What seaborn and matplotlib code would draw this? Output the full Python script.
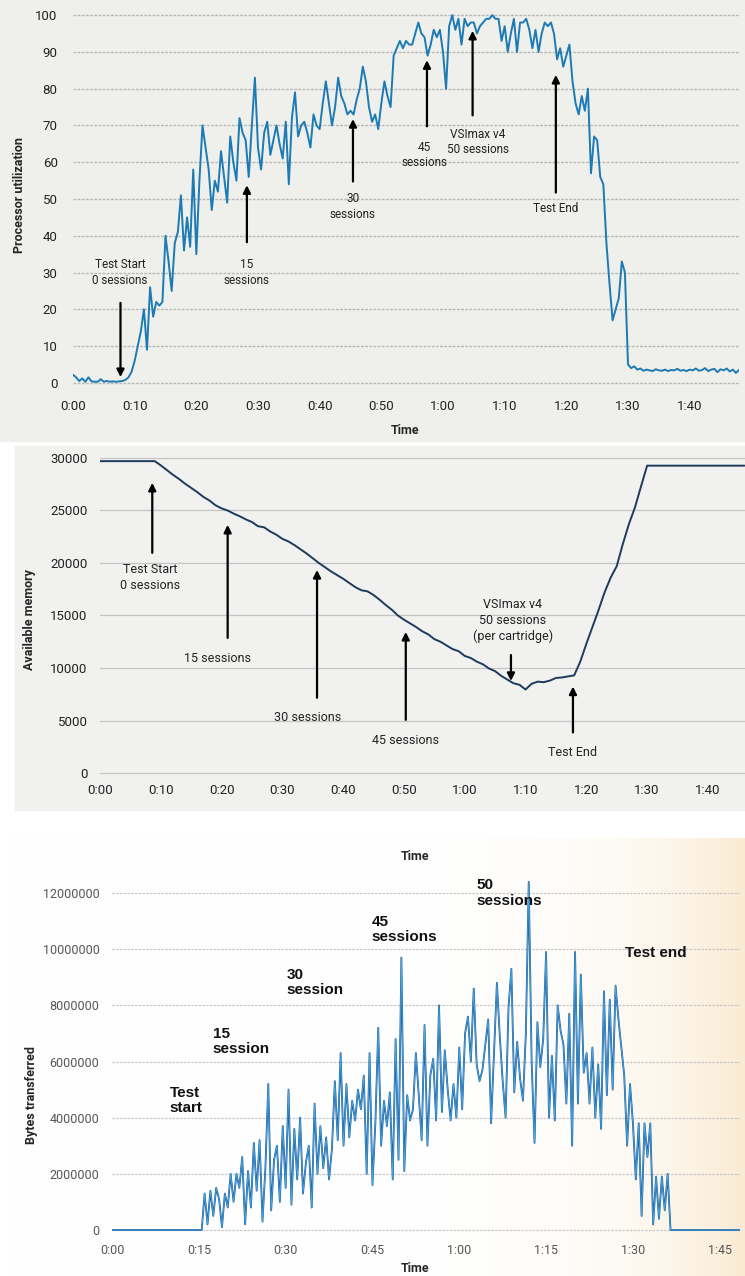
import numpy as np
import matplotlib
matplotlib.use('Agg')
import matplotlib.pyplot as plt
from matplotlib.patches import Rectangle
import seaborn as sns

# --- processor utilization, one sample every 30 s (0:00 .. 1:48)
cpu_step = 0.5
cpu = [2.2, 1.5, 0.5, 1.2, 0.3, 1.5, 0.4, 0.3, 0.3, 1.0, 0.3, 0.5, 0.3, 0.4, 0.3, 0.4, 0.5, 0.8, 1.5, 3,
       6, 10, 14, 20, 9, 26, 18, 22, 21, 22, 40, 33, 25, 38, 41, 51, 36, 45, 37, 58,
       35, 55, 70, 64, 58, 47, 55, 52, 63, 56, 49, 67, 60, 55, 72, 68, 66, 56, 70, 83,
       64, 58, 68, 71, 62, 66, 70, 65, 61, 71, 54, 72, 79, 67, 70, 71, 68, 64, 73, 70,
       69, 76, 82, 76, 70, 75, 83, 78, 76, 73, 74, 73, 77, 80, 86, 82, 75, 71, 73, 69,
       76, 82, 78, 75, 89, 91, 93, 91, 93, 92, 92, 95, 98, 95, 94, 89, 92, 96, 94, 96,
       90, 80, 97, 100, 96, 99, 92, 99, 97, 98, 98, 95, 97, 98, 99, 99, 100, 99, 99, 93,
       97, 90, 95, 99, 90, 98, 98, 99, 96, 91, 96, 90, 95, 98, 97, 98, 95, 88, 91, 86,
       89, 92, 82, 76, 73, 78, 74, 80, 57, 67, 66, 56, 54, 38, 27, 17, 20, 23, 33, 30,
       5, 4, 4.5, 3.6, 3.9, 3.3, 3.6, 3.4, 3.2, 3.7, 3.4, 3.3, 3.6, 3.2, 3.5, 3.4, 3.8, 3.3, 3.5, 3.2,
       3.6, 3.4, 3.9, 3.3, 3.5, 4.0, 3.2, 3.6, 3.8, 2.9, 3.7, 3.4, 3.9, 3.1, 3.6, 2.7, 3.5]

# --- available memory, one sample per minute (0:00 .. 1:46)
mem_step = 1.0
mem = [29700, 29700, 29700, 29700, 29700, 29700, 29700, 29700, 29700, 29700,
       29300, 28850, 28400, 28000, 27550, 27150, 26750, 26300, 25950, 25500,
       25200, 25000, 24700, 24450, 24150, 23900, 23500, 23400, 23000, 22700,
       22300, 22050, 21700, 21300, 20900, 20450, 20000, 19600, 19200, 18850,
       18500, 18100, 17700, 17400, 17300, 16950, 16500, 16000, 15550, 15000,
       14600, 14250, 13900, 13500, 13200, 12750, 12500, 12150, 11800, 11600,
       11150, 10950, 10600, 10350, 9950, 9700, 9250, 8900, 8550, 8400,
       7950, 8500, 8700, 8650, 8800, 9050, 9100, 9200, 9300, 10600,
       12300, 13900, 15500, 17200, 18600, 19700, 21800, 23700, 25300, 27300, 29270,
       29270, 29270, 29270, 29270, 29270, 29270, 29270, 29270,
       29270, 29270, 29270, 29270, 29270, 29270, 29270, 29270]

# --- bytes transferred (millions), one sample every 30 s (0:00 .. 1:48:30)
bytes_step = 0.5
bytes_m = [0] * 32 + [
    1.3, 0.2, 1.4, 0.5, 1.5, 1.1, 0.1, 1.3, 0.8, 2.0,
    1.0, 2.0, 1.5, 2.6, 0.2, 2.1, 0.8, 3.1, 1.4, 3.2,
    0.3, 2.2, 5.2, 0.7, 2.5, 3.0, 1.0, 3.7, 1.5, 5.0,
    0.9, 3.6, 1.8, 4.0, 1.3, 2.4, 3.0, 0.8, 4.5, 2.0,
    3.7, 2.2, 3.3, 1.8, 2.9, 5.3, 3.2, 6.3, 3.0, 5.2,
    3.3, 4.6, 3.9, 5.0, 4.3, 5.5, 2.0, 6.3,
    1.6, 3.8, 7.2, 3.0, 4.6, 3.7, 4.9, 1.8, 6.8, 2.5, 9.7,
    2.1, 4.8, 3.9, 4.3, 6.3, 4.8, 3.2, 7.3, 3.0, 5.5, 6.1, 3.9,
    8.0, 4.2, 6.4, 5.0, 3.9, 5.2, 4.0, 6.5, 4.3, 7.0, 7.6, 6.0,
    8.6, 5.9, 5.3, 5.7, 6.6, 7.5, 3.8, 6.3, 8.8, 6.9, 5.3, 4.0,
    7.9, 9.3, 4.9, 6.7, 5.4, 4.6, 7.0, 12.4, 6.0, 3.1, 7.4, 5.8,
    6.8, 9.9, 4.0, 6.2, 3.9, 8.0, 7.1, 6.6, 4.5, 7.7, 3.0,
    9.9, 4.5, 9.1, 5.6, 6.3, 4.5, 6.5, 4.0, 5.9, 3.6, 8.5,
    4.8, 8.2, 5.0, 8.7, 7.5, 6.5, 5.5, 3.0, 5.2, 3.8, 1.8,
    3.8, 0.5, 3.8, 2.6, 3.8, 0.2, 1.9, 0.4, 1.9, 0.7,
    2.0, 0] + [0] * 24

ticks_10 = [0, 10, 20, 30, 40, 50, 60, 70, 80, 90, 100]
labels_10 = ['0:00', '0:10', '0:20', '0:30', '0:40', '0:50', '1:00', '1:10', '1:20', '1:30', '1:40']
ticks_15 = [0, 15, 30, 45, 60, 75, 90, 105]
labels_15 = ['0:00', '0:15', '0:30', '0:45', '1:00', '1:15', '1:30', '1:45']
cpu_ticks = [0, 10, 20, 30, 40, 50, 60, 70, 80, 90, 100]
mem_ticks = [0, 5000, 10000, 15000, 20000, 25000, 30000]
bytes_ticks = [0, 2000000, 4000000, 6000000, 8000000, 10000000, 12000000]

sns.set_style('white')
plt.rcParams['font.family'] = ['Roboto', 'DejaVu Sans']

W, H = 745, 1276
fig = plt.figure(figsize=(W / 100, H / 100), dpi=100)
fig.patch.set_facecolor('white')


def box(left, top, right, bottom):
    return [left / W, 1 - bottom / H, (right - left) / W, (bottom - top) / H]


def fx(x):
    return x / W


def fy(y):
    return 1 - y / H


# panel backgrounds (photo of screens)
fig.add_artist(Rectangle((0, fy(441)), 1, 441 / H, transform=fig.transFigure,
                         color='#efefec', zorder=-2))
fig.add_artist(Rectangle((0.02, fy(810)), 0.98, (810 - 446) / H, transform=fig.transFigure,
                         color='#f1f1ef', zorder=-2))
bg = fig.add_axes(box(0, 838, W, H), zorder=-2)
grad = np.linspace(0, 1, 300) ** 7
rgb = np.ones((2, 300, 3))
cream = np.array([0.98, 0.92, 0.83])
for k in range(3):
    rgb[:, :, k] = 1 - grad * (1 - cream[k])
bg.imshow(rgb, aspect='auto', extent=[0, 1, 0, 1])
bg.axis('off')

# ---------------- panel 1 : processor utilization
ax1 = fig.add_axes(box(73, 10, 739, 388))
ax1.set_facecolor('none')
t_cpu = np.arange(len(cpu)) * cpu_step
sns.lineplot(x=t_cpu, y=cpu, ax=ax1, color='#1c7ab4', lw=1.4, estimator=None)
ax1.set_xlim(0, 108)
ax1.set_ylim(-1.4, 101.4)
ax1.set_xticks(ticks_10, labels_10)
ax1.set_yticks(cpu_ticks)
ax1.yaxis.grid(True, color='#b8b8b8', ls=(0, (2, 1)), lw=1.0)
ax1.set_axisbelow(True)
ax1.tick_params(axis='x', length=0, pad=9, labelsize=9.5, labelcolor='#222222')
ax1.tick_params(axis='y', length=0, pad=11, labelsize=9.5, labelcolor='#222222')
sns.despine(ax=ax1, left=True, bottom=True)
fig.text(fx(405), fy(430), 'Time', ha='center', va='center', fontsize=9, fontweight='bold')
fig.text(fx(20), fy(195), 'Processor utilization', rotation=90, ha='center', va='center',
         fontsize=9, fontweight='bold')

arrow = dict(arrowstyle='-|>', color='black', lw=1.6, mutation_scale=11)
cpu_notes = [
    ('Test Start\n0 sessions', 7.6, 30, (7.7, 22.5), (7.7, 0.8)),
    ('15\nsessions', 28.2, 30, (28.2, 37.5), (28.2, 54.5)),
    ('30\nsessions', 45.4, 48, (45.4, 54), (45.4, 72.5)),
    ('45\nsessions', 57.0, 62, (57.4, 69), (57.4, 88.5)),
    ('VSImax v4\n50 sessions', 65.6, 65.5, (64.8, 72), (64.8, 96.5)),
    ('Test End', 78.3, 47.5, (78.3, 51), (78.3, 84.5)),
]
for txt, x, y, tail, tip in cpu_notes:
    ax1.text(x, y, txt, ha='center', va='center', fontsize=8.5, linespacing=1.25,
             color='#222222')
    ax1.annotate('', xy=tip, xytext=tail, arrowprops=arrow)

# ---------------- panel 2 : available memory
ax2 = fig.add_axes(box(100, 452, 745, 778))
ax2.set_facecolor('none')
t_mem = np.arange(len(mem)) * mem_step
sns.lineplot(x=t_mem, y=mem, ax=ax2, color='#1e3a5c', lw=1.4, estimator=None)
ax2.set_xlim(0, 106.1)
ax2.set_ylim(-476, 30571)
ax2.set_xticks(ticks_10, labels_10)
ax2.set_yticks(mem_ticks)
ax2.yaxis.grid(True, color='#c4c4c4', ls='-', lw=0.9)
ax2.set_axisbelow(True)
ax2.tick_params(axis='x', length=0, pad=4, labelsize=9.5, labelcolor='#222222')
ax2.tick_params(axis='y', length=0, pad=9, labelsize=9.5, labelcolor='#222222')
sns.despine(ax=ax2, left=True, bottom=True)
fig.text(fx(30), fy(620), 'Available memory', rotation=90, ha='center', va='center',
         fontsize=9, fontweight='bold')

mem_notes = [
    ('Test Start\n0 sessions', 8.2, 18600, (8.6, 20700), (8.6, 27900)),
    ('15 sessions', 19.4, 10900, (21.0, 12600), (21.0, 23900)),
    ('30 sessions', 34.2, 5300, (35.7, 6900), (35.7, 19600)),
    ('45 sessions', 50.3, 3100, (50.3, 4800), (50.3, 13700)),
    ('VSImax v4\n50 sessions\n(per cartridge)', 67.9, 14500, (67.6, 11500), (67.6, 8500)),
    ('Test End', 77.8, 2000, (77.8, 3600), (77.8, 8500)),
]
for txt, x, y, tail, tip in mem_notes:
    ax2.text(x, y, txt, ha='center', va='center', fontsize=9, linespacing=1.25, color='#222222')
    ax2.annotate('', xy=tip, xytext=tail, arrowprops=arrow)

# ---------------- panel 3 : bytes transferred
ax3 = fig.add_axes(box(112, 870, 740, 1233))
ax3.set_facecolor('none')
t_bytes = np.arange(len(bytes_m)) * bytes_step
vals = np.array(bytes_m) * 1e6
sns.lineplot(x=t_bytes, y=vals, ax=ax3, color='#1f5a9e', lw=1.3, estimator=None)
sns.lineplot(x=t_bytes, y=vals, ax=ax3, color='#45a8e0', lw=0.6, estimator=None)
ax3.set_xlim(0, 108.5)
ax3.set_ylim(-0.107e6, 12.82e6)
ax3.set_xticks(ticks_15, labels_15)
ax3.set_yticks(bytes_ticks, [str(v) for v in bytes_ticks])
ax3.yaxis.grid(True, color='#c8c8c8', ls=(0, (2, 1)), lw=0.9)
ax3.set_axisbelow(True)
ax3.tick_params(axis='x', length=0, pad=8, labelsize=9, labelcolor='#555555')
ax3.tick_params(axis='y', length=0, pad=9, labelsize=9, labelcolor='#555555')
sns.despine(ax=ax3, left=True, bottom=True)
fig.text(fx(415), fy(857), 'Time', ha='center', va='center', fontsize=9, fontweight='bold')
fig.text(fx(415), fy(1268), 'Time', ha='center', va='center', fontsize=9, fontweight='bold')
fig.text(fx(32), fy(1095), 'Bytes transferred', rotation=90, ha='center', va='center',
         fontsize=9, fontweight='bold')

bytes_notes = [
    ('Test\nstart', 10.0, 4.6e6),
    ('15\nsession', 17.4, 6.7e6),
    ('30\nsession', 30.2, 8.8e6),
    ('45\nsessions', 44.9, 10.7e6),
    ('50\nsessions', 63.0, 12.0e6),
    ('Test end', 88.6, 9.85e6),
]
for txt, x, y in bytes_notes:
    ax3.text(x, y, txt, ha='left', va='center', fontsize=11, fontweight='bold',
             family=['Liberation Sans', 'DejaVu Sans'], linespacing=1.1, color='#111111')

fig.savefig('out.png', dpi=100)
